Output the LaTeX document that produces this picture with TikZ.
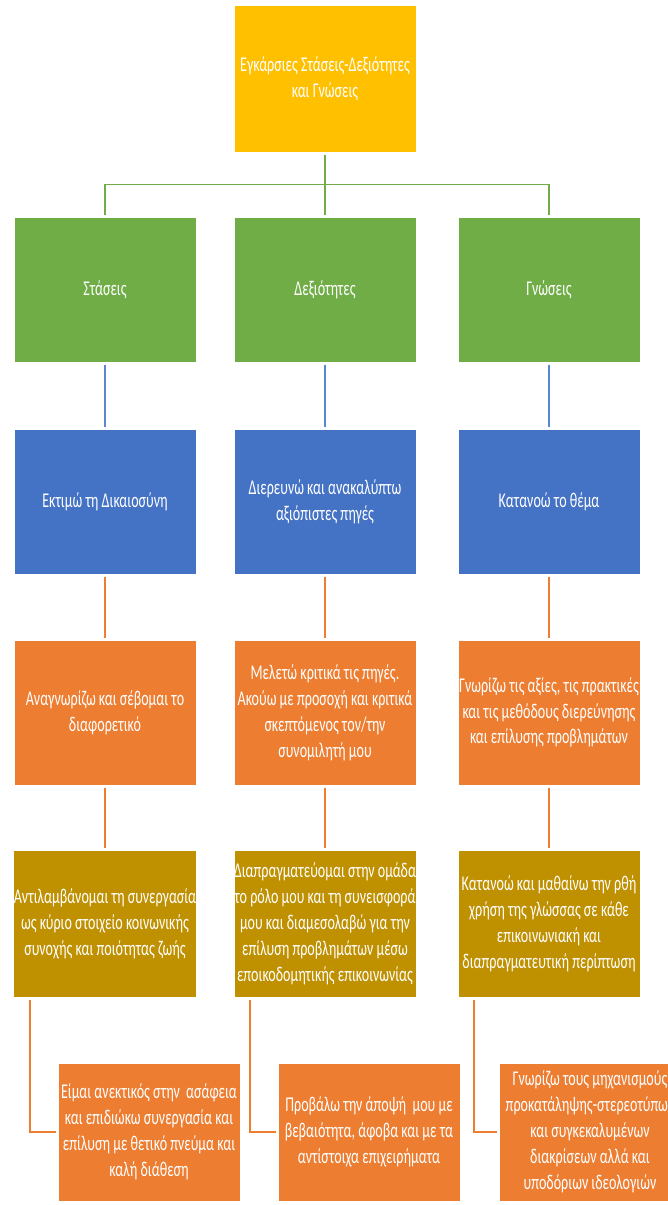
\documentclass[tikz,border=0pt]{standalone}
\usepackage{fontspec}
\setmainfont[FakeStretch=0.67]{Carlito}
\definecolor{cgold}{HTML}{FFC000}
\definecolor{cgreen}{HTML}{70AD47}
\definecolor{cblue}{HTML}{4472C4}
\definecolor{corange}{HTML}{ED7D31}
\definecolor{colive}{HTML}{BF9000}
\definecolor{lblue}{HTML}{5B86D1}
\tikzset{
  box/.style={rectangle, draw=white, line width=0.6pt, minimum width=182pt,
    minimum height=145pt, text=white, align=center, inner sep=0pt, outer sep=2.5pt,
    font=\fontsize{21}{25.9}\selectfont},
  conn/.style={line width=1.5pt},
}
\begin{document}
\begin{tikzpicture}[x=1pt,y=-1pt]
\useasboundingbox (0,0) rectangle (668,1205);
\clip (0,0) rectangle (668,1205);
\fill[white] (0,0) rectangle (668,1205);
% top
\node[box, fill=cgold, minimum height=147pt] (top) at (325,78.5) {Εγκάρσιες Στάσεις-Δεξιότητες\\και Γνώσεις};
% green
\node[box, fill=cgreen] (g1) at (105,289.5) {Στάσεις};
\node[box, fill=cgreen] (g2) at (325,289.5) {Δεξιότητες};
\node[box, fill=cgreen] (g3) at (549,289.5) {Γνώσεις};
% blue
\node[box, fill=cblue] (bl1) at (105,501.5) {Εκτιμώ τη Δικαιοσύνη};
\node[box, fill=cblue] (bl2) at (325,501.5) {Διερευνώ και ανακαλύπτω\\αξιόπιστες πηγές};
\node[box, fill=cblue] (bl3) at (549,501.5) {Κατανοώ το θέμα};
% orange
\node[box, fill=corange] (o1) at (105,712.5) {Αναγνωρίζω και σέβομαι το\\διαφορετικό};
\node[box, fill=corange] (o2) at (325,712.5) {Μελετώ κριτικά τις πηγές.\\Ακούω με προσοχή και κριτικά\\σκεπτόμενος τον/την\\συνομιλητή μου};
\node[box, fill=corange] (o3) at (549,712.5) {Γνωρίζω τις αξίες, τις πρακτικές\\και τις μεθόδους διερεύνησης\\και επίλυσης προβλημάτων};
% olive
\node[box, fill=colive, minimum height=147pt] (ol1) at (105,923.5) {Αντιλαμβάνομαι τη συνεργασία\\ως κύριο στοιχείο κοινωνικής\\συνοχής και ποιότητας ζωής};
\node[box, fill=colive, minimum height=147pt] (ol2) at (325,923.5) {Διαπραγματεύομαι στην ομάδα\\το ρόλο μου και τη συνεισφορά\\μου και διαμεσολαβώ για την\\επίλυση προβλημάτων μέσω\\εποικοδομητικής επικοινωνίας};
\node[box, fill=colive, minimum height=147pt] (ol3) at (549,923.5) {Κατανοώ και μαθαίνω την ρθή\\χρήση της γλώσσας σε κάθε\\επικοινωνιακή και\\διαπραγματευτική περίπτωση};
% bottom
\node[box, fill=corange, minimum height=138pt] (b1) at (149,1132) {Είμαι ανεκτικός στην\ \ ασάφεια\\και επιδιώκω συνεργασία και\\επίλυση με θετικό πνεύμα και\\καλή διάθεση};
\node[box, fill=corange, minimum height=138pt] (b2) at (369,1132) {Προβάλω την άποψή\ \ μου με\\βεβαιότητα, άφοβα και με τα\\αντίστοιχα επιχειρήματα};
\node[box, fill=corange, minimum height=138pt] (b3) at (590,1132) {Γνωρίζω τους μηχανισμούς\\προκατάληψης-στερεοτύπων\\και συγκεκαλυμένων\\διακρίσεων αλλά και\\υποδόριων ιδεολογιών};
% connectors
\draw[conn, cgreen] (top.south) -- (g2.north);
\draw[conn, cgreen] (g1.north) -- ++(0,-30) -| (g3.north);
\foreach \i in {1,2,3}{
  \draw[conn, lblue] (g\i.south) -- (bl\i.north);
  \draw[conn, corange] (bl\i.south) -- (o\i.north);
  \draw[conn, corange] (o\i.south) -- (ol\i.north);
  \draw[conn, corange] ([xshift=-75pt]ol\i.south) |- (b\i.west);
}
\end{tikzpicture}
\end{document}
